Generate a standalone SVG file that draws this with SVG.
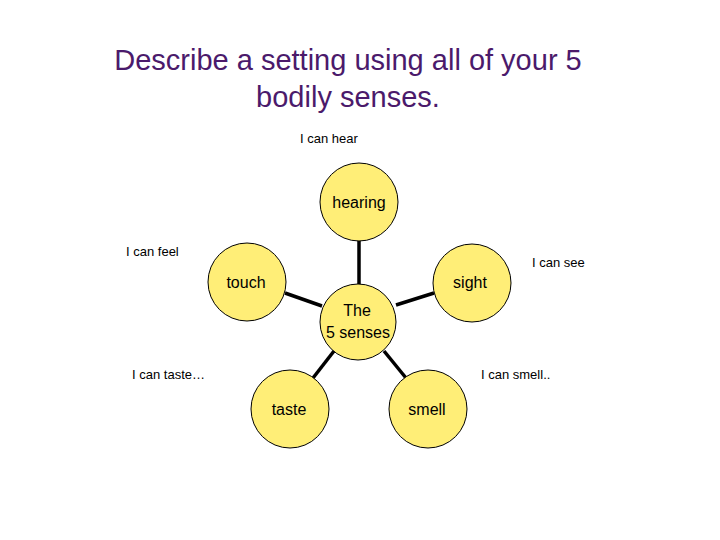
<svg xmlns="http://www.w3.org/2000/svg" width="720" height="540" viewBox="0 0 720 540">
<style>
.n{fill:#FFEE77;stroke:#000;stroke-width:1}
.t{font-family:"Liberation Sans",Arial,sans-serif;font-size:16px;fill:#000;text-anchor:middle}
.s{font-family:"Liberation Sans",Arial,sans-serif;font-size:13px;fill:#000}
.c line{stroke:#000;stroke-width:3.5}
</style>
<rect width="720" height="540" fill="#fff"/>
<text x="348" y="70" font-family="Liberation Sans,Arial,sans-serif" font-size="29" fill="#4B1A6B" text-anchor="middle">Describe a setting using all of your 5</text>
<text x="348" y="107" font-family="Liberation Sans,Arial,sans-serif" font-size="29" fill="#4B1A6B" text-anchor="middle">bodily senses.</text>
<text class="s" x="300" y="143">I can hear</text>
<text class="s" x="126" y="256">I  can feel</text>
<text class="s" x="532" y="267">I can see</text>
<text class="s" x="132" y="379">I can taste…</text>
<text class="s" x="481" y="379">I can smell..</text>
<g class="c">
<line x1="359" y1="240" x2="359" y2="284"/>
<line x1="285" y1="293" x2="322" y2="306"/>
<line x1="434" y1="293" x2="396" y2="305"/>
<line x1="334" y1="351" x2="313" y2="378"/>
<line x1="384" y1="351" x2="406" y2="378"/>
</g>
<g id="hearing"><circle class="n" cx="359" cy="202" r="39"/><text class="t" x="359" y="208">hearing</text></g>
<g id="touch"><circle class="n" cx="247" cy="282" r="39"/><text class="t" x="246" y="288">touch</text></g>
<g id="sight"><circle class="n" cx="472" cy="283" r="39"/><text class="t" x="470" y="288">sight</text></g>
<g id="center"><circle class="n" cx="358" cy="322" r="38"/><text class="t" x="357" y="316">The</text><text class="t" x="358" y="338">5 senses</text></g>
<g id="taste"><circle class="n" cx="290" cy="409" r="39"/><text class="t" x="289" y="415">taste</text></g>
<g id="smell"><circle class="n" cx="428" cy="409" r="39"/><text class="t" x="427" y="415">smell</text></g>
</svg>
